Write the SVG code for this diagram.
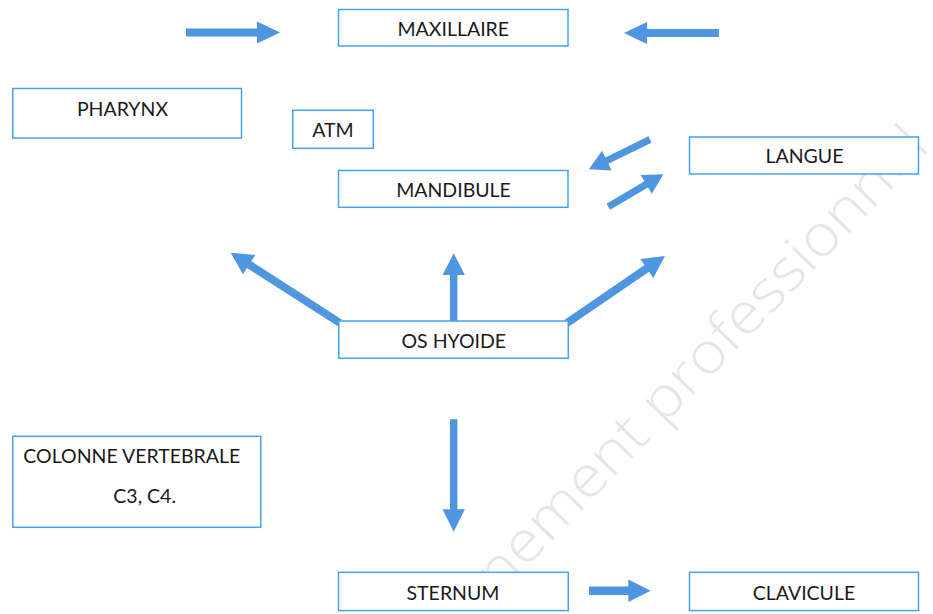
<svg xmlns="http://www.w3.org/2000/svg" width="933" height="614" viewBox="0 0 933 614">
<style>
.box{fill:#ffffff;stroke:#48a0f0;stroke-width:1.5}
.lbl{font-family:Lato,"Liberation Sans",sans-serif;font-size:19.5px;fill:#1a1a1a}
.c{text-anchor:middle}
.arr{fill:#4f96e0}
.wm{font-family:"Open Sans","Liberation Sans",sans-serif;font-weight:300;font-size:57px;fill:#e6e6e6}
</style>
<rect width="933" height="614" fill="#ffffff"/>
<text class="wm" transform="translate(499,596) rotate(-46)" x="0" y="0" textLength="622" lengthAdjust="spacingAndGlyphs">nement professionnel</text>
<g id="connectors">
<polygon class="arr" transform="translate(186,32.5)" points="0,-4 71,-4 71,-11 94,0 71,11 71,4 0,4"/>
<polygon class="arr" transform="translate(719,33) rotate(180)" points="0,-4 72,-4 72,-11 95,0 72,11 72,4 0,4"/>
<polygon class="arr" transform="translate(650,139.5) rotate(154)" points="0,-3.5 48,-3.5 48,-11 68,0 48,11 48,3.5 0,3.5"/>
<polygon class="arr" transform="translate(608.3,206.7) rotate(-30.5)" points="0,-3.5 44,-3.5 44,-11 64,0 44,11 44,3.5 0,3.5"/>
<polygon class="arr" transform="translate(340,323) rotate(-147.25)" points="0,-4 108,-4 108,-11.5 130,0 108,11.5 108,4 0,4"/>
<polygon class="arr" transform="translate(453.7,321) rotate(-90)" points="0,-3.7 46,-3.7 46,-11.2 67.7,0 46,11.2 46,3.7 0,3.7"/>
<polygon class="arr" transform="translate(567,323) rotate(-34.36)" points="0,-4 96.7,-4 96.7,-11.5 118.7,0 96.7,11.5 96.7,4 0,4"/>
<polygon class="arr" transform="translate(453.7,419.3) rotate(90)" points="0,-3.7 90,-3.7 90,-11.2 112.4,0 90,11.2 90,3.7 0,3.7"/>
<polygon class="arr" transform="translate(589,590.8)" points="0,-4.2 39.3,-4.2 39.3,-11.2 61.7,0 39.3,11.2 39.3,4.2 0,4.2"/>
</g>
<g id="maxillaire"><rect class="box" x="338.5" y="9.5" width="229.5" height="36.5"/><text class="lbl c" x="453.3" y="35.5">MAXILLAIRE</text></g>
<g id="pharynx"><rect class="box" x="12.8" y="88.5" width="228.7" height="49.5"/><text class="lbl c" x="122.5" y="116">PHARYNX</text></g>
<g id="atm"><rect class="box" x="292.8" y="110.3" width="80.5" height="38"/><text class="lbl c" x="333" y="137.3">ATM</text></g>
<g id="mandibule"><rect class="box" x="338.5" y="170.5" width="229.5" height="36.8"/><text class="lbl c" x="453.5" y="196.7">MANDIBULE</text></g>
<g id="langue"><rect class="box" x="689.5" y="137" width="229" height="37"/><text class="lbl c" x="804.5" y="163.3">LANGUE</text></g>
<g id="os-hyoide"><rect class="box" x="338.8" y="321" width="229.5" height="37.3"/><text class="lbl c" x="453.8" y="348.3">OS HYOIDE</text></g>
<g id="colonne"><rect class="box" x="12.8" y="436.3" width="248" height="91"/><text class="lbl" x="23.3" y="462.7">COLONNE VERTEBRALE</text><text class="lbl" x="113.3" y="503.3">C3, C4.</text></g>
<g id="sternum"><rect class="box" x="338.5" y="572.3" width="229.8" height="38.3"/><text class="lbl c" x="453" y="600">STERNUM</text></g>
<g id="clavicule"><rect class="box" x="689.5" y="572.3" width="229" height="38.3"/><text class="lbl c" x="804" y="600">CLAVICULE</text></g>
</svg>
